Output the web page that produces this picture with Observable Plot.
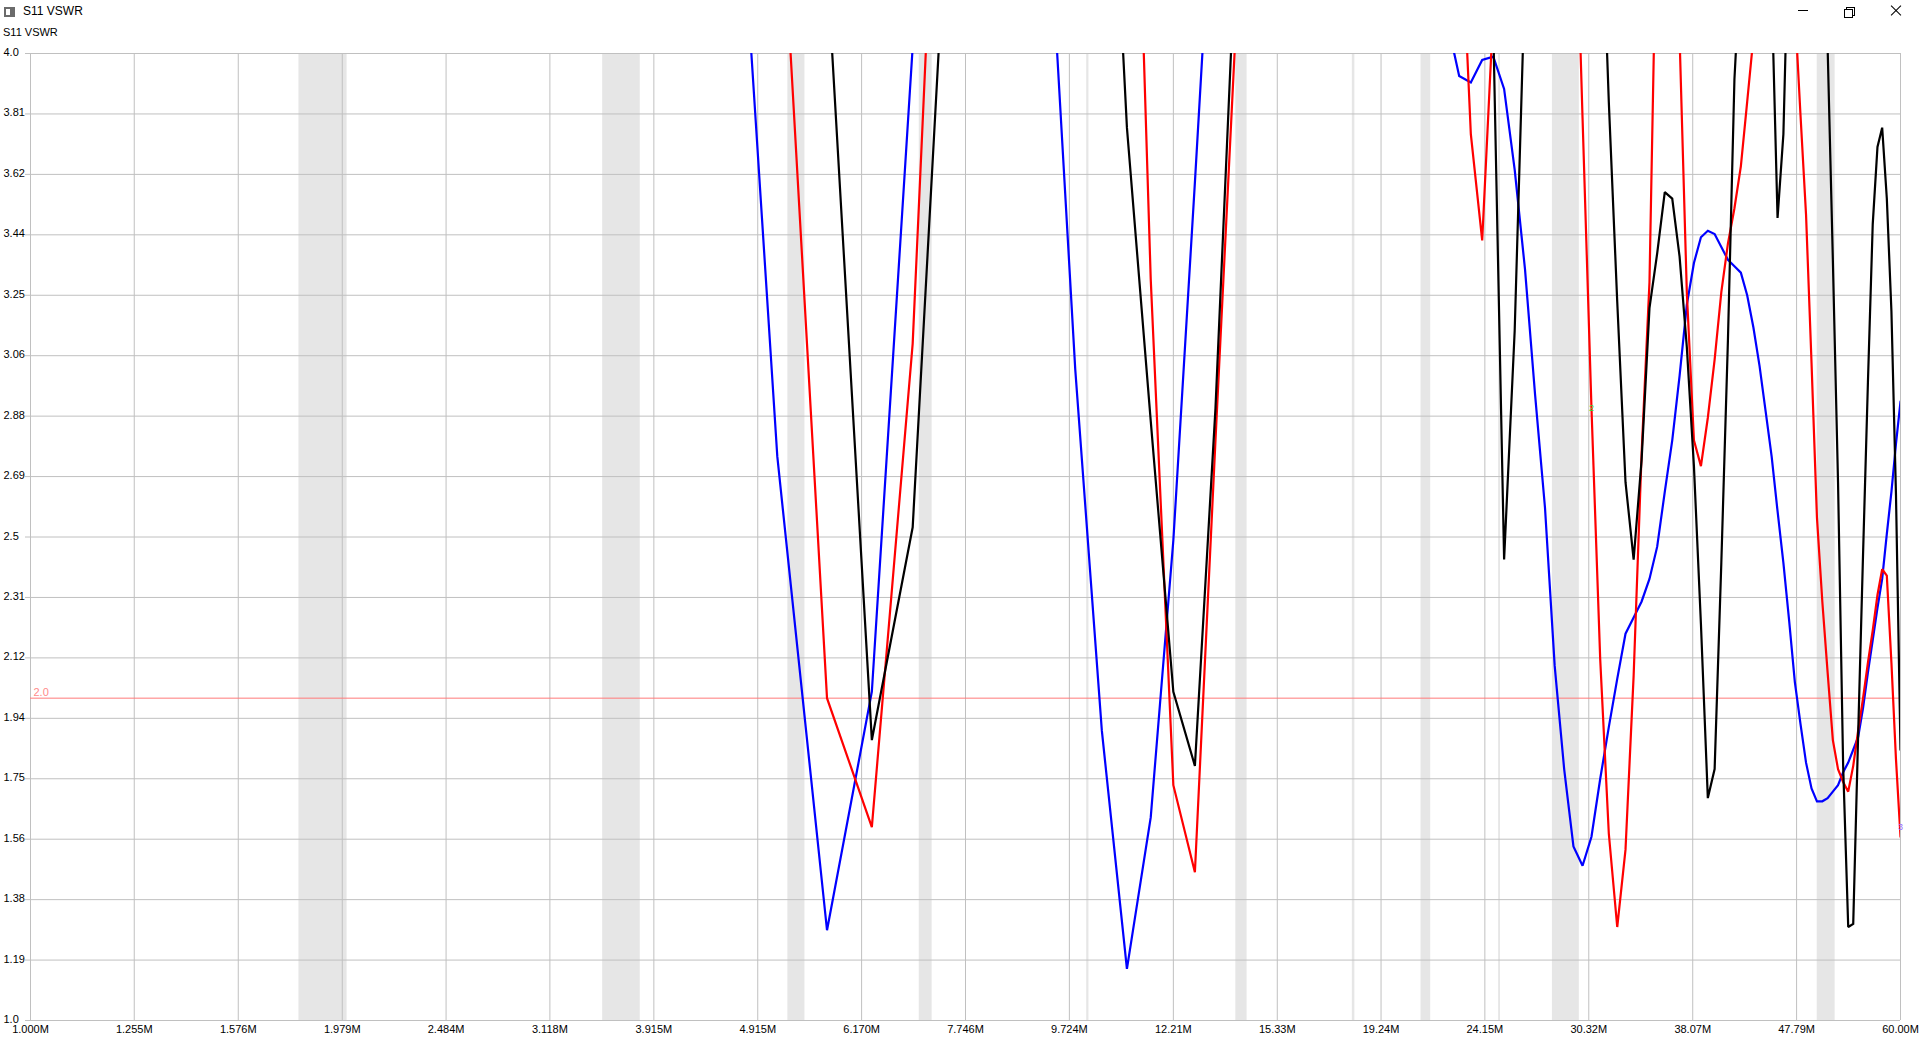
<!DOCTYPE html>
<html><head><meta charset="utf-8">
<script src="https://cdn.jsdelivr.net/npm/d3@7"></script>
<script src="https://cdn.jsdelivr.net/npm/@observablehq/plot@0.6"></script>
<style>
body{margin:0;background:#fff;font-family:"Liberation Sans",Arial,sans-serif;}
#wrap{position:relative;width:1920px;height:1040px;overflow:hidden;background:#fff;}
#chart{position:absolute;left:0;top:0;}
.t{position:absolute;color:#000;white-space:nowrap;}
</style></head><body>
<div id="wrap">
<div id="chart"></div>
<div style="position:absolute;left:4px;top:7px;width:11px;height:10px;background:#6b6b6b;"></div>
<div style="position:absolute;left:6px;top:9px;width:4px;height:6px;background:#fff;"></div>
<div class="t" style="left:23px;top:4px;font-size:12px;line-height:15px;">S11 VSWR</div>
<div class="t" style="left:3px;top:26px;font-size:11px;line-height:13px;">S11 VSWR</div>
<div style="position:absolute;left:1798px;top:10px;width:10px;height:1px;background:#000;"></div>
<div style="position:absolute;left:1846px;top:7px;width:7px;height:7px;border:1px solid #000;background:#fff;"></div>
<div style="position:absolute;left:1844px;top:9px;width:7px;height:7px;border:1px solid #000;background:#fff;"></div>
<div style="position:absolute;left:1889px;top:10px;width:14px;height:1px;background:#000;transform:rotate(45deg);"></div>
<div style="position:absolute;left:1889px;top:10px;width:14px;height:1px;background:#000;transform:rotate(-45deg);"></div>
</div>
<script>
// Sweep frequencies (MHz)
const freqMHz = [
1.00,1.59,2.18,2.77,3.36,3.95,4.54,5.13,5.72,6.31,
6.90,7.49,8.08,8.67,9.26,9.85,10.44,11.03,11.62,12.21,
12.80,13.39,13.98,14.57,15.16,15.75,16.34,16.93,17.52,18.11,
18.70,19.29,19.88,20.47,21.06,21.65,22.24,22.83,23.42,24.01,
24.60,25.19,25.78,26.37,26.96,27.55,28.14,28.73,29.32,29.91,
30.50,31.09,31.68,32.27,32.86,33.45,34.04,34.63,35.22,35.81,
36.40,36.99,37.58,38.17,38.76,39.35,39.94,40.53,41.12,41.71,
42.30,42.89,43.48,44.07,44.66,45.25,45.84,46.43,47.02,47.61,
48.20,48.79,49.38,49.97,50.56,51.15,51.74,52.33,52.92,53.51,
54.10,54.69,55.28,55.87,56.46,57.05,57.64,58.23,58.82,59.41,
60.00];

const blueVSWR = [
14.0,12.5,10.5,8.6,7.2,6.2,5.44,2.75,1.28,2.02,
4.02,6.0,7.4,6.3,4.55,3.02,1.90,1.16,1.63,2.49,
3.60,4.70,5.8,6.7,7.3,7.6,7.6,7.4,7.0,6.5,
6.0,5.5,5.1,4.8,4.5,4.3,4.10,3.93,3.91,3.98,
3.99,3.89,3.64,3.33,2.94,2.59,2.10,1.78,1.54,1.48,
1.57,1.75,1.91,2.06,2.20,2.25,2.30,2.37,2.47,2.64,
2.80,3.00,3.22,3.35,3.43,3.45,3.44,3.40,3.36,3.34,
3.32,3.25,3.15,3.03,2.89,2.75,2.58,2.42,2.24,2.05,
1.92,1.80,1.72,1.68,1.68,1.69,1.71,1.73,1.77,1.80,
1.84,1.88,1.97,2.08,2.18,2.28,2.37,2.51,2.64,2.79,
2.92];

const redVSWR = [
14.0,12.0,10.0,8.3,7.0,6.1,5.5,4.73,2.00,1.60,
3.10,5.68,7.0,7.3,7.0,6.6,6.2,5.7,3.30,1.73,
1.46,2.80,4.04,5.24,6.0,6.6,7.0,7.2,7.2,7.0,
6.7,6.4,6.0,5.6,5.2,4.9,4.7,4.56,3.75,3.42,
4.13,5.0,5.6,6.0,6.2,6.1,5.8,5.3,4.74,3.80,
2.90,2.12,1.58,1.29,1.53,2.07,2.76,3.29,4.56,5.3,
5.0,4.05,3.26,2.80,2.72,2.87,3.05,3.26,3.41,3.52,
3.65,3.85,4.05,4.4,4.8,5.1,5.2,5.0,4.7,4.14,
3.81,3.50,3.04,2.56,2.30,2.08,1.87,1.78,1.74,1.71,
1.79,1.90,2.00,2.11,2.21,2.32,2.40,2.38,2.11,1.81,
1.57];

const blackVSWR = [
15.0,13.0,11.0,9.5,8.0,6.8,5.8,5.0,4.28,1.87,
2.53,4.66,6.2,6.8,6.7,6.2,5.3,3.77,2.86,2.02,
1.79,2.90,4.30,5.4,6.2,6.8,7.1,7.2,7.1,6.9,
6.6,6.3,6.0,5.7,5.4,5.1,4.9,4.7,4.5,4.3,
4.08,2.43,3.14,4.24,5.0,5.5,5.8,5.9,5.8,5.5,
5.1,4.60,3.85,3.23,2.67,2.43,2.74,3.21,3.38,3.57,
3.55,3.37,3.09,2.72,2.23,1.69,1.78,2.42,3.11,3.92,
4.30,4.8,5.1,5.0,4.6,4.20,3.49,3.75,4.45,5.0,
5.3,5.4,5.3,5.0,4.6,4.02,3.36,2.67,1.79,1.29,
1.30,1.89,2.45,2.98,3.47,3.71,3.77,3.55,3.20,2.63,
1.84];

// Axis ticks
const xTickValues = [1.000,1.255,1.576,1.979,2.484,3.118,3.915,4.915,6.170,7.746,9.724,12.21,15.33,19.24,24.15,30.32,38.07,47.79,60.00];
const xTickLabels = ["1.000M","1.255M","1.576M","1.979M","2.484M","3.118M","3.915M","4.915M","6.170M","7.746M","9.724M","12.21M","15.33M","19.24M","24.15M","30.32M","38.07M","47.79M","60.00M"];
const yTickValues = [1.0,1.1875,1.375,1.5625,1.75,1.9375,2.125,2.3125,2.5,2.6875,2.875,3.0625,3.25,3.4375,3.625,3.8125,4.0];
const yTickLabels = ["1.0","1.19","1.38","1.56","1.75","1.94","2.12","2.31","2.5","2.69","2.88","3.06","3.25","3.44","3.62","3.81","4.0"];

// Amateur bands (MHz)
const bandStart = [1.8,3.5,5.25,7.0,10.1,14.0,18.068,21.0,24.89,28.0,50.0];
const bandEnd   = [2.0,3.8,5.45,7.2,10.15,14.35,18.168,21.45,24.99,29.7,52.0];

// SWR threshold
const swrLimit = [2.0];
const swrLabel = ["2.0"];

// Markers
const markerFreq = [30.50, 60.00];
const markerVSWR = [2.90, 1.60];
const markerLabel = ["2", "3"];
const markerColor = ["#33dd33", "#9a6cff"];

const mk = arr => freqMHz.map((f, i) => ({f, v: arr[i]}));
const bands = bandStart.map((s, i) => ({s, e: bandEnd[i]}));
const markers = markerFreq.map((f, i) => ({f, v: markerVSWR[i], t: markerLabel[i], c: markerColor[i]}));

const grid = "#c0c0c0";
const lineOpts = {x: "f", y: "v", strokeWidth: 2.2, clip: true, strokeLinejoin: "miter", strokeMiterlimit: 2};
const plot = Plot.plot({
  width: 1920, height: 1040,
  marginLeft: 30, marginRight: 20, marginTop: 53, marginBottom: 20,
  style: {fontFamily: "'Liberation Sans', Arial, sans-serif", fontSize: "11px", background: "#fff", color: "#000"},
  x: {type: "log", domain: [1, 60], axis: null},
  y: {domain: [1, 4], axis: null},
  marks: [
    Plot.rect(bands, {x1: "s", x2: "e", fill: "#e6e6e6"}),
    Plot.ruleX(xTickValues, {stroke: grid, strokeWidth: 1}),
    Plot.ruleY(yTickValues, {stroke: grid, strokeWidth: 1, insetLeft: -5}),
    Plot.ruleY(swrLimit, {stroke: "#ff7a7a", strokeWidth: 1}),
    Plot.text(swrLimit, {y: d => d, text: (d, i) => swrLabel[i], frameAnchor: "left", textAnchor: "start", dx: 3, dy: -6, fill: "#ff8a8a", fontSize: 11}),
    Plot.line(mk(blueVSWR), {...lineOpts, stroke: "#0000ff"}),
    Plot.line(mk(redVSWR), {...lineOpts, stroke: "#ff0000"}),
    Plot.line(mk(blackVSWR), {...lineOpts, stroke: "#000000"}),
    Plot.text(markers, {x: "f", y: "v", text: "t", fill: "c", fontSize: 9}),
    Plot.text(yTickValues, {y: d => d, text: (d, i) => yTickLabels[i], frameAnchor: "left", textAnchor: "start", dx: -27, dy: -1, fill: "#000"}),
    Plot.text(xTickValues, {x: d => d, text: (d, i) => xTickLabels[i], frameAnchor: "bottom", dy: 12, fill: "#000"})
  ]
});
document.getElementById("chart").appendChild(plot);
</script>
</body></html>
